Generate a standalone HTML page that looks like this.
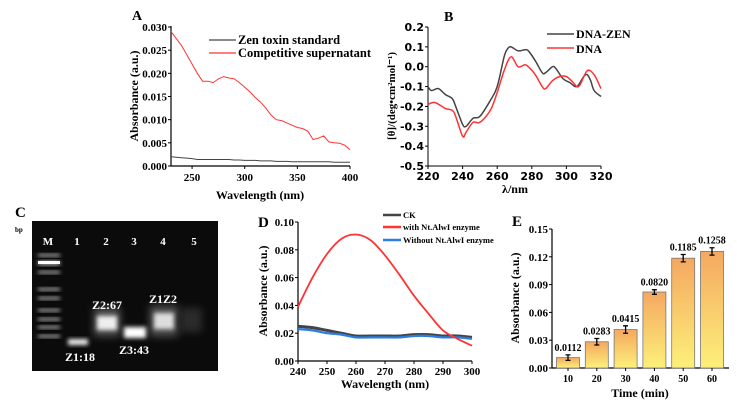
<!DOCTYPE html>
<html><head><meta charset="utf-8"><style>
body{margin:0;background:#fff;}
svg{display:block;font-family:"Liberation Serif",serif;font-weight:bold;}
</style></head><body>
<svg id="s" width="737" height="408" viewBox="0 0 737 408" xmlns="http://www.w3.org/2000/svg">
<defs>
<filter id="blur" x="-50%" y="-50%" width="200%" height="200%"><feGaussianBlur stdDeviation="2"/></filter>
<filter id="blur2" x="-50%" y="-50%" width="200%" height="200%"><feGaussianBlur stdDeviation="4"/></filter>
<linearGradient id="barg" x1="0" y1="0" x2="0" y2="1"><stop offset="0" stop-color="#f4a860"/><stop offset="1" stop-color="#fdf07a"/></linearGradient>
</defs>
</svg>
<script>
// Panel A data
const aWl=[230,235,240,245,250,255,260,265,270,275,280,285,290,295,300,305,310,315,320,325,330,335,340,345,350,355,360,365,370,375,380,385,390,395,400];
const aRed=[0.029,0.0275,0.026,0.024,0.022,0.020,0.0183,0.0183,0.018,0.0188,0.0193,0.019,0.0188,0.018,0.017,0.016,0.0148,0.0138,0.0125,0.011,0.010,0.0098,0.0093,0.0088,0.0083,0.0081,0.0075,0.0057,0.006,0.0065,0.0052,0.005,0.0049,0.0045,0.0035];
const aGray=[0.002,0.0019,0.0018,0.0017,0.0016,0.0014,0.0014,0.0014,0.0014,0.0014,0.0014,0.0014,0.0013,0.0013,0.0012,0.0012,0.0012,0.0011,0.0011,0.0011,0.001,0.001,0.001,0.0009,0.0009,0.0009,0.0009,0.0009,0.0009,0.0009,0.0009,0.0008,0.0008,0.0008,0.0008];
const aYTicks=["0.000","0.005","0.010","0.015","0.020","0.025","0.030"];
const aXTicks=[250,300,350,400];
// Panel B data
const bWlZen=[220,222,226,230,234,236,240,242,246,250,256,260,264,266,268,272,276,278,282,286,288,292,294,298,302,306,310,312,314,316,320];
const bZen=[-0.1,-0.12,-0.11,-0.14,-0.16,-0.2,-0.29,-0.3,-0.26,-0.25,-0.17,-0.1,0.05,0.09,0.1,0.08,0.085,0.08,0.03,-0.03,-0.03,0.0,-0.01,-0.06,-0.08,-0.1,-0.05,-0.04,-0.07,-0.12,-0.15];
const bWlDna=[220,224,230,234,236,240,242,246,250,256,260,264,268,272,276,278,282,286,288,292,296,300,304,306,308,312,316,320];
const bDna=[-0.19,-0.18,-0.21,-0.22,-0.25,-0.35,-0.33,-0.28,-0.28,-0.22,-0.13,-0.02,0.05,0.0,0.01,0.0,-0.04,-0.1,-0.11,-0.07,-0.05,-0.05,-0.08,-0.1,-0.09,-0.02,-0.04,-0.11];
const bYTicks=[0.2,0.1,0.0,-0.1,-0.2,-0.3,-0.4,-0.5];
const bXTicks=[220,240,260,280,300,320];
// Panel D data
const dWl=[240,245,250,255,260,265,270,275,280,285,290,295,300];
const dRed=[0.039,0.06,0.077,0.088,0.091,0.087,0.076,0.062,0.047,0.034,0.022,0.016,0.011];
const dCK=[0.025,0.024,0.022,0.02,0.018,0.018,0.018,0.018,0.019,0.019,0.018,0.018,0.017];
const dBlue=[0.023,0.022,0.02,0.019,0.017,0.017,0.017,0.017,0.018,0.018,0.017,0.017,0.016];
const dYTicks=["0.00","0.02","0.04","0.06","0.08","0.10"];
const dXTicks=[240,250,260,270,280,290,300];
// Panel E data
const eCats=["10","20","30","40","50","60"];
const eVals=[0.0112,0.0283,0.0415,0.0820,0.1185,0.1258];
const eErr=[0.003,0.0035,0.004,0.0025,0.004,0.004];
const eYTicks=["0.00","0.03","0.06","0.09","0.12","0.15"];

const svg=document.getElementById('s');
const NS='http://www.w3.org/2000/svg';
function el(t,a,txt){const e=document.createElementNS(NS,t);for(const k in a)e.setAttribute(k,a[k]);if(txt!==undefined)e.textContent=txt;svg.appendChild(e);return e;}
function path(xs,ys,fx,fy){return xs.map((x,i)=>(i?'L':'M')+fx(x).toFixed(1)+','+fy(ys[i]).toFixed(1)).join('');}
function smooth(xs,ys,fx,fy){const p=xs.map((x,i)=>[fx(x),fy(ys[i])]);let d='M'+p[0][0].toFixed(1)+','+p[0][1].toFixed(1);
for(let i=0;i<p.length-1;i++){const p0=p[Math.max(i-1,0)],p1=p[i],p2=p[i+1],p3=p[Math.min(i+2,p.length-1)];
const c1=[p1[0]+(p2[0]-p0[0])/6,p1[1]+(p2[1]-p0[1])/6],c2=[p2[0]-(p3[0]-p1[0])/6,p2[1]-(p3[1]-p1[1])/6];
d+=`C${c1[0].toFixed(1)},${c1[1].toFixed(1)} ${c2[0].toFixed(1)},${c2[1].toFixed(1)} ${p2[0].toFixed(1)},${p2[1].toFixed(1)}`;}return d;}

// ---------- Panel A ----------
{const ax=w=>171+(w-230)*(350-171)/170, ay=v=>166-v*(139/0.03);
let t=el('text',{x:132,y:20,'font-size':14},'A');
let a=el('path',{d:'M171,26V166H350',stroke:'#000','stroke-width':1.2,fill:'none'});
aYTicks.forEach(v=>{const y=ay(+v);el('line',{x1:168,x2:171,y1:y,y2:y,stroke:'#000'});let l=el('text',{x:167,y:y+4,'font-size':11,'text-anchor':'end'},v);});
aXTicks.forEach(v=>{const x=ax(v);el('line',{x1:x,x2:x,y1:166,y2:169,stroke:'#000'});let l=el('text',{x:x,y:181,'font-size':11,'text-anchor':'middle'},v);});
let xt=el('text',{x:260,y:199,'font-size':12,'text-anchor':'middle'},'Wavelength (nm)');
let yt=el('text',{x:0,y:0,'font-size':12,'text-anchor':'middle',transform:'translate(138,96) rotate(-90)'},'Absorbance (a.u.)');
let g=el('path',{d:path(aWl,aGray,ax,ay),stroke:'#444','stroke-width':1,fill:'none'});
let r=el('path',{d:path(aWl,aRed,ax,ay),stroke:'#f33','stroke-width':1,fill:'none'});
el('line',{x1:209,x2:236,y1:40,y2:40,stroke:'#444','stroke-width':1.2});
let l1=el('text',{x:238,y:44,'font-size':12.5},'Zen toxin standard');
el('line',{x1:209,x2:236,y1:53,y2:53,stroke:'#f33','stroke-width':1.2});
let l2=el('text',{x:238,y:57,'font-size':12.5},'Competitive supernatant');
}
// ---------- Panel B ----------
{const bx=w=>428+(w-220)*(601-428)/100, by=v=>27+(0.2-v)*(139/0.7);
let t=el('text',{x:444,y:21,'font-size':14},'B');
let a=el('path',{d:'M428,27V166H601',stroke:'#000','stroke-width':1,fill:'none'});
bYTicks.forEach(v=>{const y=by(v);el('line',{x1:425,x2:428,y1:y,y2:y,stroke:'#000'});let l=el('text',{x:424,y:y+4,'font-size':11,'text-anchor':'end','font-family':'DejaVu Sans'},v.toFixed(1));});
bXTicks.forEach(v=>{const x=bx(v);el('line',{x1:x,x2:x,y1:166,y2:169,stroke:'#000'});let l=el('text',{x:x,y:180,'font-size':11,'text-anchor':'middle','font-family':'DejaVu Sans'},v);});
let xt=el('text',{x:515,y:193,'font-size':12,'text-anchor':'middle'},'λ/nm');
let yt=el('text',{x:0,y:0,'font-size':11,'text-anchor':'middle',transform:'translate(395,96) rotate(-90)'},'[θ]/(deg•cm²mol⁻¹)');
let g=el('path',{d:smooth(bWlZen,bZen,bx,by),stroke:'#444','stroke-width':1.5,fill:'none'});
let r=el('path',{d:smooth(bWlDna,bDna,bx,by),stroke:'#f33','stroke-width':1.5,fill:'none'});
el('line',{x1:547,x2:574,y1:34,y2:34,stroke:'#444','stroke-width':1.5});
let l1=el('text',{x:576,y:38,'font-size':12},'DNA-ZEN');
el('line',{x1:547,x2:574,y1:48,y2:48,stroke:'#f33','stroke-width':1.5});
let l2=el('text',{x:576,y:53,'font-size':12},'DNA');
}
// ---------- Panel C (gel) ----------
{let t=el('text',{x:15,y:217,'font-size':15},'C');
let bp=el('text',{x:15,y:232,'font-size':7},'bp');
let gel=el('rect',{x:32,y:221,width:186,height:150,fill:'#0b0b0b'});
const ladder=[255,262,272,289,298,310,319,327,336];
ladder.forEach((y,i)=>{el('rect',{x:38,y:y-1,width:22,height:i==1?4:2.5,fill:'#ddd',filter:'url(#blur)',opacity:0.9});});
el('rect',{x:38,y:261,width:22,height:3,fill:'#fff'});
el('rect',{x:94,y:308,width:26,height:28,fill:'#555',filter:'url(#blur2)'});
el('rect',{x:150,y:306,width:28,height:30,fill:'#555',filter:'url(#blur2)'});
el('rect',{x:68,y:339,width:20,height:6,fill:'#eee',filter:'url(#blur)'});
el('rect',{x:97,y:316,width:20,height:14,fill:'#eee',filter:'url(#blur)'});
el('rect',{x:124,y:327,width:22,height:11,fill:'#fff',filter:'url(#blur)'});
el('rect',{x:154,y:313,width:20,height:16,fill:'#ddd',filter:'url(#blur)'});
el('rect',{x:180,y:308,width:22,height:24,fill:'#2a2a2a',filter:'url(#blur2)'});
[['M',48],['1',77],['2',106],['3',134],['4',163],['5',194]].forEach(([s,x])=>{let l=el('text',{x:x,y:245,'font-size':11,fill:'#fff','text-anchor':'middle'},s);});
[['100',311],['75',320],['50',329],['25',343]].forEach(([s,y])=>{let l=el('text',{x:14,y:y,'font-size':7,fill:'#fff'},s);});
[['Z1:18',80,361],['Z2:67',107,309],['Z3:43',134,354],['Z1Z2',163,303]].forEach(([s,x,y])=>{let l=el('text',{x:x,y:y,'font-size':12,fill:'#fff','text-anchor':'middle'},s);});
}
// ---------- Panel D ----------
{const dx=w=>298+(w-240)*(472-298)/60, dy=v=>361-v*(139/0.1);
let t=el('text',{x:258,y:227,'font-size':15},'D');
let a=el('path',{d:'M298,222V361H472',stroke:'#000','stroke-width':1.2,fill:'none'});
dYTicks.forEach(v=>{const y=dy(+v);el('line',{x1:295,x2:298,y1:y,y2:y,stroke:'#000'});let l=el('text',{x:294,y:y+4,'font-size':11,'text-anchor':'end'},v);});
dXTicks.forEach(v=>{const x=dx(v);el('line',{x1:x,x2:x,y1:361,y2:364,stroke:'#000'});let l=el('text',{x:x,y:375,'font-size':11,'text-anchor':'middle'},v);});
let xt=el('text',{x:385,y:388,'font-size':12,'text-anchor':'middle'},'Wavelength (nm)');
let yt=el('text',{x:0,y:0,'font-size':12,'text-anchor':'middle',transform:'translate(267,291) rotate(-90)'},'Absorbance (a.u.)');
let c=el('path',{d:smooth(dWl,dCK,dx,dy),stroke:'#444','stroke-width':3,fill:'none'});
let b=el('path',{d:smooth(dWl,dBlue,dx,dy),stroke:'#2a7de1','stroke-width':2.2,fill:'none'});
let r=el('path',{d:smooth(dWl,dRed,dx,dy),stroke:'#f33','stroke-width':1.8,fill:'none'});
[['CK','#444',215],['with Nt.AlwI enzyme','#f33',227],['Without Nt.AlwI enzyme','#2a7de1',240]].forEach(([s,col,y])=>{el('line',{x1:383,x2:401,y1:y,y2:y,stroke:col,'stroke-width':2.5});let l=el('text',{x:403,y:y+3,'font-size':8.5},s);});
}
// ---------- Panel E ----------
{const ey=v=>368-v*(139/0.15), ex=i=>568+i*28.8;
let t=el('text',{x:512,y:226,'font-size':15},'E');
let a=el('path',{d:'M552,229V368H729',stroke:'#000','stroke-width':1.2,fill:'none'});
eYTicks.forEach(v=>{const y=ey(+v);el('line',{x1:549,x2:552,y1:y,y2:y,stroke:'#000'});let l=el('text',{x:548,y:y+4,'font-size':11,'text-anchor':'end'},v);});
let yt=el('text',{x:0,y:0,'font-size':12,'text-anchor':'middle',transform:'translate(519,298) rotate(-90)'},'Absorbance (a.u.)');
let xt=el('text',{x:640,y:397,'font-size':12,'text-anchor':'middle'},'Time (min)');
eCats.forEach((c,i)=>{const x=ex(i),v=eVals[i];
let b=el('rect',{x:x-11.5,y:ey(v),width:23,height:368-ey(v),fill:'url(#barg)',stroke:'#777','stroke-width':0.8});
const y1=ey(v+eErr[i]),y2=ey(v-eErr[i]);
el('path',{d:`M${x},${y1}V${y2}M${x-2.5},${y1}H${x+2.5}M${x-2.5},${y2}H${x+2.5}`,stroke:'#000','stroke-width':1.3,fill:'none'});
let vl=el('text',{x:x,y:y1-4,'font-size':10,'text-anchor':'middle'},v.toFixed(4));
el('line',{x1:x,x2:x,y1:368,y2:371,stroke:'#000'});
let l=el('text',{x:x,y:382,'font-size':10,'text-anchor':'middle'},c);});
}
</script>
</body></html>
